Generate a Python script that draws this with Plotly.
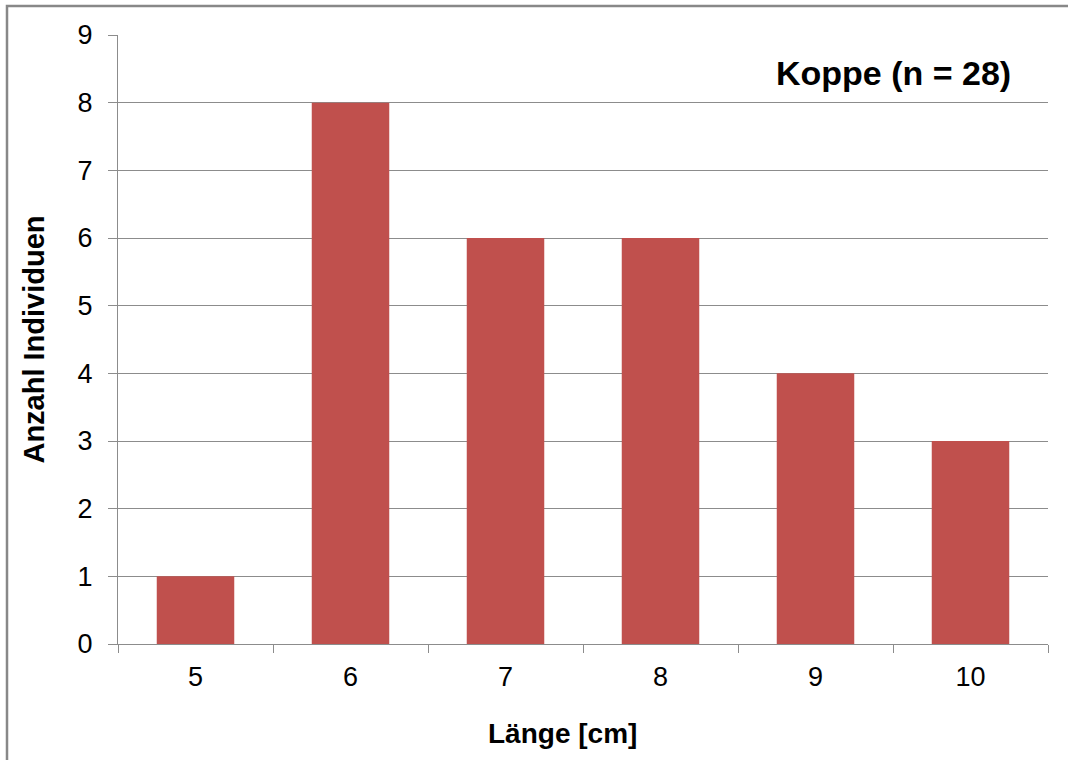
import plotly.graph_objects as go

# Längenverteilung der Koppe
laenge = ["5", "6", "7", "8", "9", "10"]
anzahl = [1, 8, 6, 6, 4, 3]
y_ticks = list(range(0, 10))

BAR = "#C0504D"
GRID = "#8C8C8C"
FONT = "Arial, Liberation Sans, sans-serif"

W, H = 1068, 760
L, R, T, B = 118, 20, 35, 116
pw, ph = W - L - R, H - T - B


def px_x(x):
    return (x - L) / pw


def px_y(y):
    return (H - B - y) / ph


fig = go.Figure(
    go.Bar(x=laenge, y=anzahl, marker=dict(color=BAR, line=dict(width=0)), width=0.5)
)

fig.update_layout(
    width=W,
    height=H,
    margin=dict(l=L, r=R, t=T, b=B),
    plot_bgcolor="white",
    paper_bgcolor="white",
    font=dict(family=FONT, color="black", size=27),
    showlegend=False,
    bargap=0.5,
)

fig.update_xaxes(
    type="category",
    tickson="boundaries",
    ticks="outside",
    ticklen=8,
    tickcolor=GRID,
    showline=True,
    linecolor=GRID,
    linewidth=1,
    showgrid=False,
    tickfont=dict(size=27),
    ticklabelstandoff=9,
)

fig.update_yaxes(
    range=[0, 9],
    tickvals=y_ticks,
    ticks="outside",
    ticklen=9,
    tickcolor=GRID,
    showline=True,
    linecolor=GRID,
    linewidth=1,
    showgrid=True,
    gridcolor=GRID,
    gridwidth=1,
    zeroline=False,
    tickfont=dict(size=27),
    ticklabelstandoff=10,
    title=dict(text="<b>Anzahl Individuen</b>", font=dict(size=29), standoff=24),
)

# x-Achsentitel, etwas links der Mitte
fig.add_annotation(
    text="<b>Länge [cm]</b>",
    xref="paper", yref="paper",
    x=px_x(562), y=px_y(733),
    xanchor="center", yanchor="middle",
    showarrow=False,
    font=dict(size=28, family=FONT),
)

fig.add_annotation(
    text="<b>Koppe (n = 28)</b>",
    xref="paper", yref="paper",
    x=px_x(1013), y=px_y(73),
    xanchor="right", yanchor="middle",
    showarrow=False,
    font=dict(size=34, family=FONT),
)

# Rahmen um das Diagramm
fig.add_shape(
    type="rect",
    xref="paper", yref="paper",
    x0=px_x(7), x1=px_x(W + 10),
    y0=px_y(H + 10), y1=px_y(6),
    line=dict(color="#888888", width=2.5),
    fillcolor="rgba(0,0,0,0)",
    layer="below",
)

fig.write_html("out.html")
